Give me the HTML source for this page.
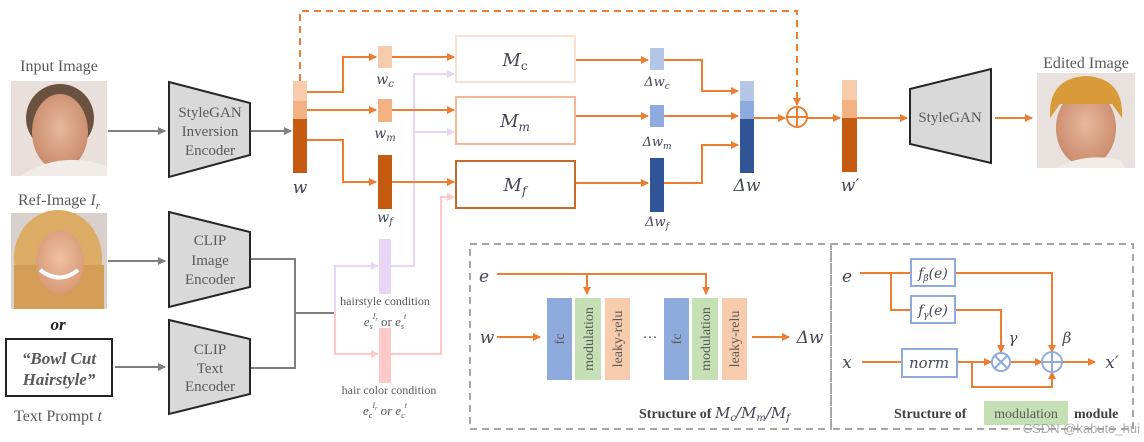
<!DOCTYPE html>
<html><head><meta charset="utf-8"><style>
html,body{margin:0;padding:0;background:#fff;}
svg{display:block;}
.s{font-family:"Liberation Serif",serif;fill:#595959;}
.m{font-family:"DejaVu Serif","Liberation Serif",serif;font-style:italic;fill:#44465a;}
</style></head><body>
<svg width="1144" height="442" viewBox="0 0 1144 442" xmlns="http://www.w3.org/2000/svg">
<defs>
<marker id="ao" markerWidth="8" markerHeight="8" refX="7" refY="4" orient="auto" markerUnits="userSpaceOnUse"><path d="M0,0 L8,4 L0,8 z" fill="#ed7d31"/></marker>
<marker id="ag" markerWidth="8" markerHeight="8" refX="7" refY="4" orient="auto" markerUnits="userSpaceOnUse"><path d="M0,0 L8,4 L0,8 z" fill="#7f7f7f"/></marker>
<marker id="al" markerWidth="8" markerHeight="8" refX="7" refY="4" orient="auto" markerUnits="userSpaceOnUse"><path d="M0,0 L8,4 L0,8 z" fill="#e6d5f5"/></marker>
<marker id="ap" markerWidth="8" markerHeight="8" refX="7" refY="4" orient="auto" markerUnits="userSpaceOnUse"><path d="M0,0 L8,4 L0,8 z" fill="#fcc8c8"/></marker>
<radialGradient id="skin" cx="50%" cy="45%" r="55%"><stop offset="0" stop-color="#e8b89a"/><stop offset="1" stop-color="#c98c6c"/></radialGradient>
<radialGradient id="skin2" cx="50%" cy="45%" r="55%"><stop offset="0" stop-color="#f0c0a0"/><stop offset="1" stop-color="#d79a78"/></radialGradient>
</defs>

<!-- Input image -->
<text class="s" x="59" y="71" font-size="16" text-anchor="middle">Input Image</text>
<rect x="11" y="81" width="96" height="95" fill="#e9e0dc"/>
<ellipse cx="60" cy="118" rx="34" ry="34" fill="#6b5140"/>
<ellipse cx="60" cy="132" rx="28" ry="38" fill="url(#skin)"/>
<path d="M20,176 Q60,150 107,166 L107,176 Z" fill="#f1ece8"/>
<!-- Ref image -->
<text class="s" x="59" y="205" font-size="16" text-anchor="middle">Ref-Image <tspan font-style="italic">I</tspan><tspan font-style="italic" font-size="11" dy="4">r</tspan></text>
<rect x="11" y="213" width="96" height="96" fill="#d8d0cc"/>
<ellipse cx="58" cy="258" rx="44" ry="48" fill="#dcab64"/>
<rect x="14" y="265" width="90" height="44" fill="#d49d55"/>
<ellipse cx="60" cy="262" rx="24" ry="32" fill="url(#skin2)"/>
<path d="M40,270 Q60,285 78,270" stroke="#fff" stroke-width="4" fill="none"/>
<!-- or / text prompt -->
<text x="58" y="330" font-family="Liberation Serif,serif" font-size="17" font-weight="bold" font-style="italic" fill="#222" text-anchor="middle">or</text>
<rect x="6" y="339" width="106" height="57" fill="#fff" stroke="#222" stroke-width="2"/>
<text x="59" y="364" font-family="Liberation Serif,serif" font-size="17" font-weight="bold" font-style="italic" fill="#595959" text-anchor="middle">“Bowl Cut</text>
<text x="59" y="385" font-family="Liberation Serif,serif" font-size="17" font-weight="bold" font-style="italic" fill="#595959" text-anchor="middle">Hairstyle”</text>
<text class="s" x="58" y="421" font-size="16" text-anchor="middle">Text Prompt <tspan font-style="italic">t</tspan></text>

<!-- gray arrows -->
<g stroke="#7f7f7f" stroke-width="2" fill="none">
<line x1="108" y1="131" x2="165" y2="131" marker-end="url(#ag)"/>
<line x1="250" y1="131" x2="291" y2="131" marker-end="url(#ag)"/>
<line x1="108" y1="261" x2="165" y2="261" marker-end="url(#ag)"/>
<line x1="115" y1="367" x2="165" y2="367" marker-end="url(#ag)"/>
<polyline points="250,259 295,259 295,368 250,368"/>
<line x1="295" y1="313" x2="335" y2="313"/>
</g>
<!-- encoders -->
<g fill="#d9d9d9" stroke="#262626" stroke-width="2">
<polygon points="169,82 250,103 250,155 169,177"/>
<polygon points="169,212 250,232 250,287 169,307"/>
<polygon points="169,320 250,339 250,394 169,414"/>
<polygon points="910,89 991,69 991,163 910,144"/>
</g>
<g class="s" font-size="15" text-anchor="middle">
<text x="210" y="117">StyleGAN</text><text x="210" y="136">Inversion</text><text x="210" y="155">Encoder</text>
<text x="210" y="245">CLIP</text><text x="210" y="265">Image</text><text x="210" y="284">Encoder</text>
<text x="210" y="354">CLIP</text><text x="210" y="373">Text</text><text x="210" y="391">Encoder</text>
<text x="950" y="122">StyleGAN</text>
</g>

<!-- condition lines -->
<polyline points="335,313 335,266 378,266" stroke="#e6d5f5" stroke-width="2" fill="none" marker-end="url(#al)"/>
<polyline points="335,313 335,354 378,354" stroke="#fcc8c8" stroke-width="2" fill="none" marker-end="url(#ap)"/>
<polyline points="391,266 414,266 414,74 454,74" stroke="#e6d5f5" stroke-width="2" fill="none" marker-end="url(#al)"/>
<line x1="414" y1="132" x2="454" y2="132" stroke="#e6d5f5" stroke-width="2" marker-end="url(#al)"/>
<polyline points="391,354 441,354 441,197 454,197" stroke="#fcc8c8" stroke-width="2" fill="none" marker-end="url(#ap)"/>
<rect x="379" y="239" width="12" height="55" fill="#e6d5f5"/>
<rect x="379" y="328" width="12" height="55" fill="#fcc8c8"/>
<text class="s" x="385" y="305" font-size="12" text-anchor="middle">hairstyle condition</text>
<text class="s" x="385" y="326" font-size="13" text-anchor="middle"><tspan font-style="italic">e</tspan><tspan font-size="8" font-style="italic" dy="3">s</tspan><tspan font-size="8" font-style="italic" dy="-10">I</tspan><tspan font-size="6" font-style="italic" dy="2">r</tspan><tspan dy="5"> or </tspan><tspan font-style="italic">e</tspan><tspan font-size="8" font-style="italic" dy="3">s</tspan><tspan font-size="8" font-style="italic" dy="-10">t</tspan></text>
<text class="s" x="389" y="394" font-size="12" text-anchor="middle">hair color condition</text>
<text class="s" x="385" y="415" font-size="13" text-anchor="middle"><tspan font-style="italic">e</tspan><tspan font-size="8" font-style="italic" dy="3">c</tspan><tspan font-size="8" font-style="italic" dy="-10">I</tspan><tspan font-size="6" font-style="italic" dy="2">r</tspan><tspan dy="5" font-style="italic"> or </tspan><tspan font-style="italic">e</tspan><tspan font-size="8" font-style="italic" dy="3">c</tspan><tspan font-size="8" font-style="italic" dy="-10">t</tspan></text>

<!-- orange lines top -->
<g stroke="#ed7d31" stroke-width="2" fill="none">
<polyline points="300,81 300,11 797,11 797,105" stroke-dasharray="7,5" marker-end="url(#ao)"/>
<polyline points="307,92 343,92 343,57 376,57" marker-end="url(#ao)"/>
<line x1="307" y1="110" x2="376" y2="110" marker-end="url(#ao)"/>
<polyline points="307,140 343,140 343,182 376,182" marker-end="url(#ao)"/>
<line x1="392" y1="57" x2="454" y2="57" marker-end="url(#ao)"/>
<line x1="392" y1="110" x2="454" y2="110" marker-end="url(#ao)"/>
<line x1="392" y1="182" x2="454" y2="182" marker-end="url(#ao)"/>
<line x1="576" y1="60" x2="648" y2="60" marker-end="url(#ao)"/>
<line x1="576" y1="116" x2="648" y2="116" marker-end="url(#ao)"/>
<line x1="576" y1="183" x2="648" y2="183" marker-end="url(#ao)"/>
<polyline points="664,60 702,60 702,91 738,91" marker-end="url(#ao)"/>
<line x1="664" y1="116" x2="738" y2="116" marker-end="url(#ao)"/>
<polyline points="664,183 702,183 702,145 738,145" marker-end="url(#ao)"/>
<line x1="754" y1="118" x2="785" y2="118" marker-end="url(#ao)"/>
<line x1="807" y1="118" x2="840" y2="118" marker-end="url(#ao)"/>
<line x1="857" y1="118" x2="907" y2="118" marker-end="url(#ao)"/>
<line x1="995" y1="118" x2="1032" y2="118" marker-end="url(#ao)"/>
<circle cx="797" cy="117" r="10"/>
<line x1="787" y1="117" x2="807" y2="117"/><line x1="797" y1="107" x2="797" y2="127"/>
</g>
<!-- w bar -->
<rect x="293" y="81" width="14" height="20" fill="#f8cbad"/>
<rect x="293" y="101" width="14" height="18" fill="#f4b183"/>
<rect x="293" y="119" width="14" height="54" fill="#c55a11"/>
<text class="m" x="300" y="193" font-size="17" text-anchor="middle">w</text>
<rect x="378" y="46" width="14" height="22" fill="#f8cbad"/>
<rect x="378" y="99" width="14" height="23" fill="#f4b183"/>
<rect x="378" y="155" width="14" height="54" fill="#c55a11"/>
<text class="m" x="385" y="84" font-size="14" text-anchor="middle">w<tspan font-size="10" dy="3">c</tspan></text>
<text class="m" x="385" y="138" font-size="14" text-anchor="middle">w<tspan font-size="10" dy="3">m</tspan></text>
<text class="m" x="385" y="222" font-size="14" text-anchor="middle">w<tspan font-size="10" dy="3">f</tspan></text>
<!-- M boxes -->
<rect x="456" y="36" width="119" height="46" fill="#fff" stroke="#fbe0cf" stroke-width="2"/>
<rect x="456" y="97" width="119" height="47" fill="#fff" stroke="#f4b896" stroke-width="2"/>
<rect x="456" y="161" width="119" height="47" fill="#fff" stroke="#c86a2a" stroke-width="2"/>
<text class="m" x="515" y="66" font-size="18" text-anchor="middle">M<tspan font-size="12" dy="4" font-style="normal">c</tspan></text>
<text class="m" x="515" y="127" font-size="18" text-anchor="middle">M<tspan font-size="12" dy="4">m</tspan></text>
<text class="m" x="515" y="191" font-size="18" text-anchor="middle">M<tspan font-size="12" dy="4">f</tspan></text>
<!-- delta bars -->
<rect x="650" y="48" width="14" height="22" fill="#b4c7e7"/>
<rect x="650" y="105" width="14" height="22" fill="#8faadc"/>
<rect x="650" y="158" width="14" height="54" fill="#2f5597"/>
<text class="m" x="657" y="86" font-size="13" text-anchor="middle">Δw<tspan font-size="9" dy="3">c</tspan></text>
<text class="m" x="657" y="146" font-size="13" text-anchor="middle">Δw<tspan font-size="9" dy="3">m</tspan></text>
<text class="m" x="657" y="226" font-size="13" text-anchor="middle">Δw<tspan font-size="9" dy="3">f</tspan></text>
<rect x="740" y="81" width="14" height="20" fill="#b4c7e7"/>
<rect x="740" y="101" width="14" height="18" fill="#8faadc"/>
<rect x="740" y="119" width="14" height="54" fill="#2f5597"/>
<text class="m" x="747" y="191" font-size="17" text-anchor="middle">Δw</text>
<rect x="842" y="80" width="15" height="20" fill="#f8cbad"/>
<rect x="842" y="100" width="15" height="18" fill="#f4b183"/>
<rect x="842" y="118" width="15" height="54" fill="#c55a11"/>
<text class="m" x="850" y="191" font-size="17" text-anchor="middle">w′</text>

<!-- edited image -->
<text class="s" x="1086" y="68" font-size="16" text-anchor="middle">Edited Image</text>
<rect x="1037" y="73" width="98" height="95" fill="#e9e1de"/>
<ellipse cx="1086" cy="128" rx="30" ry="38" fill="url(#skin)"/>
<path d="M1050,118 Q1048,78 1086,76 Q1124,78 1122,118 L1112,104 L1060,104 Z" fill="#d99a3a"/>
<path d="M1055,168 Q1086,152 1120,160 L1125,168 Z" fill="#f1ece8"/>

<!-- bottom panels -->
<g stroke="#a6a6a6" stroke-width="2" stroke-dasharray="7,5" fill="none">
<rect x="470" y="244" width="361" height="185"/>
<rect x="831" y="244" width="302" height="185"/>
</g>
<text class="m" x="484" y="282" font-size="17" text-anchor="middle">e</text>
<text class="m" x="487" y="343" font-size="17" text-anchor="middle">w</text>
<g stroke="#ed7d31" stroke-width="2" fill="none">
<polyline points="497,274 706,274 706,294" marker-end="url(#ao)"/>
<line x1="587" y1="274" x2="587" y2="294" marker-end="url(#ao)"/>
<line x1="497" y1="337" x2="540" y2="337" marker-end="url(#ao)"/>
<line x1="752" y1="337" x2="789" y2="337" marker-end="url(#ao)"/>
</g>
<g>
<rect x="547" y="298" width="25" height="82" fill="#8faadc"/>
<rect x="575" y="298" width="26" height="82" fill="#c5e0b4"/>
<rect x="605" y="298" width="25" height="82" fill="#f8cbad"/>
<rect x="664" y="298" width="25" height="82" fill="#8faadc"/>
<rect x="692" y="298" width="26" height="82" fill="#c5e0b4"/>
<rect x="722" y="298" width="25" height="82" fill="#f8cbad"/>
</g>
<g class="s" font-size="14" text-anchor="middle">
<text transform="translate(564,339) rotate(-90)">fc</text>
<text transform="translate(593,339) rotate(-90)">modulation</text>
<text transform="translate(622,339) rotate(-90)">leaky-relu</text>
<text transform="translate(681,339) rotate(-90)">fc</text>
<text transform="translate(710,339) rotate(-90)">modulation</text>
<text transform="translate(739,339) rotate(-90)">leaky-relu</text>
</g>
<text class="s" x="650" y="342" font-size="15" text-anchor="middle">···</text>
<text class="m" x="810" y="343" font-size="17" text-anchor="middle">Δw</text>
<text x="639" y="418" font-family="Liberation Serif,serif" font-size="14" font-weight="bold" fill="#404040">Structure of <tspan class="m" font-weight="normal" font-size="15">M<tspan font-size="10" dy="3">c</tspan><tspan dy="-3">/M</tspan><tspan font-size="10" dy="3">m</tspan><tspan dy="-3">/M</tspan><tspan font-size="10" dy="3">f</tspan></tspan></text>

<!-- modulation module -->
<text class="m" x="847" y="282" font-size="17" text-anchor="middle">e</text>
<text class="m" x="847" y="368" font-size="17" text-anchor="middle">x</text>
<g stroke="#ed7d31" stroke-width="2" fill="none">
<line x1="860" y1="273" x2="911" y2="273"/>
<polyline points="891,273 891,310 911,310"/>
<polyline points="955,273 1052,273 1052,352" marker-end="url(#ao)"/>
<polyline points="955,310 1001,310 1001,352" marker-end="url(#ao)"/>
<line x1="862" y1="362" x2="902" y2="362"/>
<line x1="957" y1="362" x2="991" y2="362" marker-end="url(#ao)"/>
<line x1="1011" y1="362" x2="1042" y2="362" marker-end="url(#ao)"/>
<polyline points="972,362 972,387 1052,387 1052,372" marker-end="url(#ao)"/>
<line x1="1062" y1="362" x2="1095" y2="362" marker-end="url(#ao)"/>
</g>
<g stroke="#8faadc" stroke-width="2" fill="#fff">
<rect x="911" y="259" width="44" height="27"/>
<rect x="911" y="296" width="44" height="27"/>
<rect x="902" y="349" width="55" height="28"/>
<circle cx="1001" cy="362" r="9"/>
<circle cx="1052" cy="362" r="10"/>
</g>
<g stroke="#8faadc" stroke-width="2">
<line x1="995" y1="356" x2="1007" y2="368"/><line x1="1007" y1="356" x2="995" y2="368"/>
<line x1="1042" y1="362" x2="1062" y2="362"/><line x1="1052" y1="352" x2="1052" y2="372"/>
</g>
<text class="m" x="933" y="278" font-size="14" text-anchor="middle">f<tspan font-size="9" dy="3">β</tspan><tspan dy="-3">(e)</tspan></text>
<text class="m" x="933" y="315" font-size="14" text-anchor="middle">f<tspan font-size="9" dy="3">γ</tspan><tspan dy="-3">(e)</tspan></text>
<text class="m" x="929" y="368" font-size="15" text-anchor="middle">norm</text>
<text class="m" x="1013" y="343" font-size="15" text-anchor="middle">γ</text>
<text class="m" x="1067" y="343" font-size="15" text-anchor="middle">β</text>
<text class="m" x="1112" y="368" font-size="17" text-anchor="middle">x′</text>
<rect x="984" y="401" width="84" height="24" fill="#c5e0b4"/>
<text x="894" y="418" font-family="Liberation Serif,serif" font-size="14" font-weight="bold" fill="#404040">Structure of</text>
<text class="s" x="1026" y="418" font-size="14" text-anchor="middle">modulation</text>
<text x="1074" y="418" font-family="Liberation Serif,serif" font-size="14" font-weight="bold" fill="#404040">module</text>
<text x="1140" y="433" font-family="Liberation Sans,sans-serif" font-size="13" fill="#999" fill-opacity="0.8" text-anchor="end">CSDN @kabuto_hui</text>
</svg>
</body></html>
